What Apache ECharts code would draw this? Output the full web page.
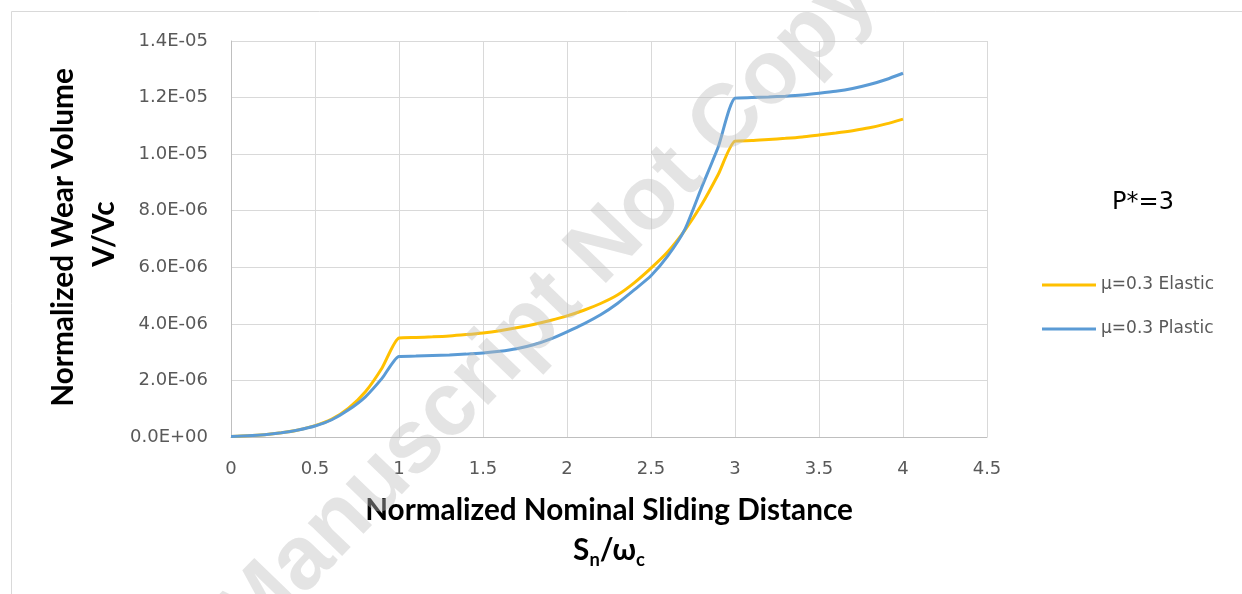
<!DOCTYPE html>
<html><head><meta charset="utf-8">
<script src="https://cdn.jsdelivr.net/npm/echarts@6/dist/echarts.min.js"></script>
<style>html,body{margin:0;padding:0;background:#fff}#c{width:1242px;height:594px}</style>
</head><body><div id="c"></div>
<script>
// ---- data ----
const xValues = [0,0.1,0.2,0.3,0.4,0.5,0.6,0.7,0.8,0.9,1.0,1.1,1.2,1.3,1.4,1.5,1.6,1.7,1.8,1.9,2.0,2.1,2.2,2.3,2.4,2.5,2.6,2.7,2.8,2.9,3.0,3.1,3.2,3.3,3.4,3.5,3.6,3.7,3.8,3.9,4.0];
const elasticValues = [0.02e-6,0.04e-6,0.08e-6,0.15e-6,0.25e-6,0.40e-6,0.63e-6,1.02e-6,1.60e-6,2.45e-6,3.50e-6,3.52e-6,3.54e-6,3.57e-6,3.62e-6,3.68e-6,3.76e-6,3.86e-6,3.98e-6,4.12e-6,4.28e-6,4.48e-6,4.72e-6,5.02e-6,5.45e-6,5.97e-6,6.55e-6,7.30e-6,8.20e-6,9.28e-6,10.46e-6,10.48e-6,10.52e-6,10.56e-6,10.61e-6,10.68e-6,10.75e-6,10.83e-6,10.93e-6,11.07e-6,11.24e-6];
const plasticValues = [0.02e-6,0.04e-6,0.08e-6,0.15e-6,0.25e-6,0.39e-6,0.61e-6,0.96e-6,1.42e-6,2.08e-6,2.85e-6,2.86e-6,2.88e-6,2.90e-6,2.93e-6,2.97e-6,3.03e-6,3.12e-6,3.26e-6,3.46e-6,3.72e-6,4.00e-6,4.32e-6,4.72e-6,5.20e-6,5.70e-6,6.40e-6,7.32e-6,8.80e-6,10.25e-6,11.98e-6,12.00e-6,12.02e-6,12.05e-6,12.09e-6,12.15e-6,12.22e-6,12.32e-6,12.46e-6,12.64e-6,12.86e-6];
const seriesNames = ['μ=0.3 Elastic', 'μ=0.3 Plastic'];
const seriesColors = ['#FFC000', '#5B9BD5'];
const xTitle = 'Normalized Nominal Sliding Distance';
const yTitle = 'Normalized Wear Volume';
const yTitle2 = 'V/Vc';
const annotation = 'P*=3';
const watermarkA = 'Accepted Manuscript ';
const watermarkB = 'Not Copyedited';

function fitSize(text, family, weight, target) {
  const ctx = document.createElement('canvas').getContext('2d');
  ctx.font = weight + ' 100px ' + family;
  return 100 * target / ctx.measureText(text).width;
}
const titleFamily = 'Lato';
const xTitleSize = fitSize(xTitle, titleFamily, 'bold', 488);
const yTitleSize = fitSize(yTitle, titleFamily, 'bold', 339);

function sci(v) {
  let s = Number(v).toExponential(1);
  let [m, e] = s.split('e');
  let sign = e[0] === '-' ? '-' : '+';
  let d = e.replace(/[+-]/, '');
  if (d.length < 2) d = '0' + d;
  return m + 'E' + sign + d;
}

const chart = echarts.init(document.getElementById('c'), null, {renderer: 'canvas'});
const tickFont = {fontFamily: 'DejaVu Sans', fontSize: 18, color: '#595959'};

chart.setOption({
  animation: false,
  backgroundColor: '#fff',
  grid: {left: 231, right: 255, top: 41, bottom: 157, containLabel: false},
  xAxis: {
    type: 'value', min: 0, max: 4.5, interval: 0.5,
    axisLine: {show: true, lineStyle: {color: '#bfbfbf', width: 1}},
    axisTick: {show: false},
    axisLabel: Object.assign({margin: 23, formatter: v => String(+v.toFixed(1))}, tickFont),
    splitLine: {show: true, lineStyle: {color: '#d9d9d9', width: 1}}
  },
  yAxis: {
    type: 'value', min: 0, max: 1.4e-5, interval: 2e-6,
    axisLine: {show: true, lineStyle: {color: '#bfbfbf', width: 1}},
    axisTick: {show: false},
    axisLabel: Object.assign({margin: 23, formatter: v => sci(v)}, tickFont),
    splitLine: {show: true, lineStyle: {color: '#d9d9d9', width: 1}}
  },
  legend: {
    orient: 'vertical', left: 1042, top: 275, padding: 0,
    itemWidth: 54, itemHeight: 3, itemGap: 24,
    icon: 'rect',
    textStyle: {fontFamily: 'DejaVu Sans', fontSize: 17, color: '#595959', lineHeight: 20},
    data: seriesNames
  },
  series: [
    {name: seriesNames[0], type: 'line', showSymbol: false, smooth: 0.2,
     color: seriesColors[0], lineStyle: {width: 3, color: seriesColors[0]},
     data: xValues.map((x, i) => [x, elasticValues[i]])},
    {name: seriesNames[1], type: 'line', showSymbol: false, smooth: 0.2,
     color: seriesColors[1], lineStyle: {width: 3, color: seriesColors[1]},
     data: xValues.map((x, i) => [x, plasticValues[i]])}
  ],
  graphic: [
    {type: 'rect', silent: true, z: -10,
     shape: {x: 11.5, y: 11.5, width: 1400, height: 800},
     style: {fill: 'none', stroke: '#d9d9d9', lineWidth: 1}},
    {type: 'text', silent: true, x: 609, y: 510.5,
     style: {text: xTitle, fill: '#000', font: 'bold ' + xTitleSize.toFixed(1) + 'px ' + titleFamily,
             textAlign: 'center', textVerticalAlign: 'middle'}},
    {type: 'text', silent: true, x: 609, y: 550.5,
     style: {text: '{m|S}{s|n}{m|/ω}{s|c}', textAlign: 'center', textVerticalAlign: 'middle',
             rich: {
               m: {fontFamily: titleFamily, fontWeight: 'bold', fontSize: xTitleSize, fill: '#000', lineHeight: 36},
               s: {fontFamily: titleFamily, fontWeight: 'bold', fontSize: xTitleSize * 0.62, fill: '#000', lineHeight: 20, padding: [20, 0, 0, 0]}
             }}},
    {type: 'text', silent: true, x: 63.5, y: 237.5, rotation: Math.PI / 2,
     style: {text: yTitle, fill: '#000', font: 'bold ' + yTitleSize.toFixed(1) + 'px ' + titleFamily,
             textAlign: 'center', textVerticalAlign: 'middle'}},
    {type: 'text', silent: true, x: 104, y: 234, rotation: Math.PI / 2,
     style: {text: yTitle2, fill: '#000', font: 'bold ' + yTitleSize.toFixed(1) + 'px ' + titleFamily,
             textAlign: 'center', textVerticalAlign: 'middle'}},
    {type: 'text', silent: true, x: 1143, y: 203,
     style: {text: annotation, fill: '#000', font: '24px "DejaVu Sans"',
             textAlign: 'center', textVerticalAlign: 'middle'}},
    {type: 'text', silent: true, z: 100, x: 584, y: 270, rotation: 46 * Math.PI / 180,
     style: {text: watermarkA, fill: 'rgba(190,190,190,0.42)', font: 'bold 90px "Liberation Sans"',
             textAlign: 'right', textVerticalAlign: 'middle'}},
    {type: 'text', silent: true, z: 100, x: 584, y: 270, rotation: 46 * Math.PI / 180,
     style: {text: watermarkB, fill: 'rgba(190,190,190,0.42)', font: 'bold 90px "Liberation Sans"',
             textAlign: 'left', textVerticalAlign: 'middle'}}
  ]
});
</script>
</body></html>
